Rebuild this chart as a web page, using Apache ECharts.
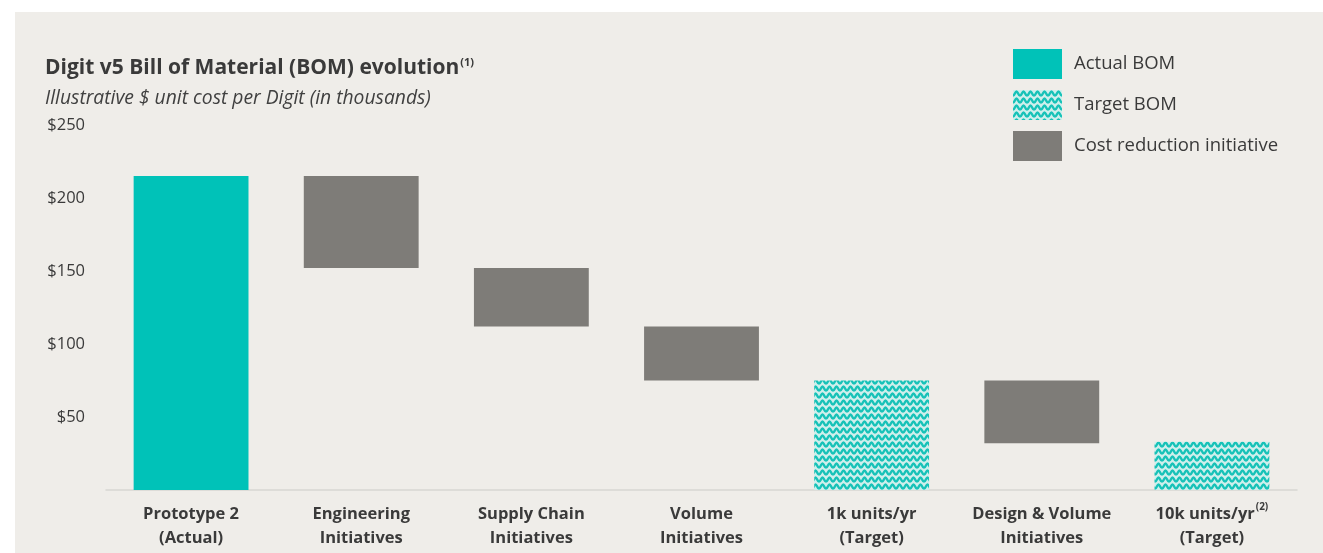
<!DOCTYPE html>
<html><head><meta charset="utf-8">
<script src="https://cdn.jsdelivr.net/npm/echarts@6/dist/echarts.min.js"></script>
<style>
html,body{margin:0;padding:0;background:#fff;}
#wrap{position:absolute;left:15px;top:12px;width:1308px;height:541px;background:#EFEDE9;}
#c{position:absolute;left:0;top:0;width:1323px;height:553px;}
</style></head>
<body><div id="wrap"></div><div id="c"></div>
<script>
// ---- data ----
const categories = ['Prototype 2\n(Actual)', 'Engineering\nInitiatives', 'Supply Chain\nInitiatives', 'Volume\nInitiatives', '1k units/yr\n(Target)', 'Design & Volume\nInitiatives', '10k units/yr{sup|(2)}\n(Target)'];
const actualBOM = [215, '-', '-', '-', '-', '-', '-'];
const targetBOM = ['-', '-', '-', '-', 75, '-', 33];
const reductionBase = ['-', 152, 112, 75, '-', 32, '-'];
const reductionSize = ['-', 63, 40, 37, '-', 43, '-'];
const yTicks = [0, 50, 100, 150, 200, 250];

// pattern tile for target bars
function makePattern() {
  const cv = document.createElement('canvas');
  cv.width = 7; cv.height = 7;
  const g = cv.getContext('2d');
  g.fillStyle = '#CFEFEC';
  g.fillRect(0, 0, 7, 7);
  g.strokeStyle = '#17C2B8';
  g.lineWidth = 2.4;
  g.beginPath();
  g.moveTo(0, 5.5);
  g.bezierCurveTo(2, 5.5, 2, 1.5, 3.5, 1.5);
  g.bezierCurveTo(5, 1.5, 5, 5.5, 7, 5.5);
  g.stroke();
  g.beginPath();
  g.moveTo(-3.5, 1.5);
  g.bezierCurveTo(-2, 1.5, -2, 5.5, 0, 5.5);
  g.stroke();
  return cv;
}
const pattern = { image: makePattern(), repeat: 'repeat' };

const chart = echarts.init(document.getElementById('c'), null, { renderer: 'canvas' });
const font = '"Open Sans", Lato, sans-serif';
chart.setOption({
  backgroundColor: 'transparent',
  animation: false,
  textStyle: { fontFamily: font },
  title: {
    text: 'Digit v5 Bill of Material (BOM) evolution{sup|(1)}',
    subtext: 'Illustrative $ unit cost per Digit (in thousands)',
    left: 40, top: 52,
    itemGap: 10,
    textStyle: {
      fontFamily: font, fontSize: 21, fontWeight: 'bold', color: '#3A3A3A',
      rich: { sup: { fontSize: 11, fontWeight: 'bold', color: '#3A3A3A', verticalAlign: 'top', padding: [0, 0, 12, 1] } }
    },
    subtextStyle: { fontFamily: font, fontSize: 19.3, fontStyle: 'italic', color: '#404040' }
  },
  legend: {
    orient: 'vertical', left: 1008, top: 44,
    itemWidth: 49, itemHeight: 30, itemGap: 11,
    data: ['Actual BOM', 'Target BOM', 'Cost reduction initiative'],
    textStyle: { fontFamily: font, fontSize: 18.5, color: '#3A3A3A', padding: [0, 0, 0, 7] },
    selectedMode: false,
    icon: 'rect'
  },
  grid: { left: 106, right: 26, top: 125, bottom: 63 },
  xAxis: {
    type: 'category', data: categories,
    axisLine: { lineStyle: { color: '#D8D6D2', width: 1.5 } },
    axisTick: { show: false },
    axisLabel: {
      fontFamily: font, fontSize: 16.5, fontWeight: 'bold', color: '#3A3A3A', lineHeight: 24, margin: 12,
      interval: 0,
      rich: { sup: { fontSize: 10, fontWeight: 'bold', color: '#3A3A3A', verticalAlign: 'top', padding: [0, 0, 10, 1] } }
    }
  },
  yAxis: {
    type: 'value', min: yTicks[0], max: yTicks[yTicks.length - 1], interval: 50,
    splitLine: { show: false }, axisLine: { show: false }, axisTick: { show: false },
    axisLabel: {
      showMinLabel: false, margin: 21,
      fontFamily: font, fontSize: 16.5, color: '#3A3A3A',
      formatter: v => '$' + v
    }
  },
  series: [
    { name: 'base', type: 'bar', stack: 's', data: reductionBase, barWidth: '67.5%',
      itemStyle: { color: 'transparent' }, silent: true },
    { name: 'Actual BOM', type: 'bar', stack: 's', data: actualBOM, barWidth: '67.5%',
      itemStyle: { color: '#00C2B8' } },
    { name: 'Target BOM', type: 'bar', stack: 's', data: targetBOM, barWidth: '67.5%',
      itemStyle: { color: pattern } },
    { name: 'Cost reduction initiative', type: 'bar', stack: 's', data: reductionSize, barWidth: '67.5%',
      itemStyle: { color: '#7E7C78' } }
  ]
});
</script></body></html>
